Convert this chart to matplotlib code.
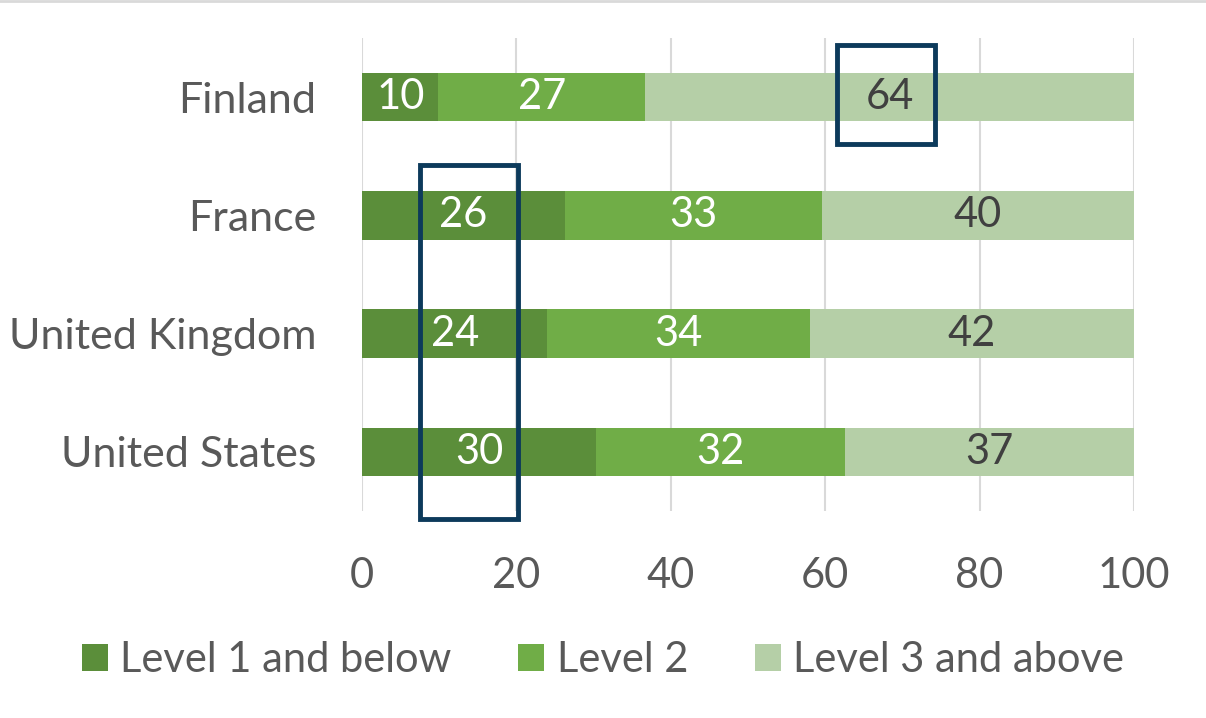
import numpy as np
import matplotlib.pyplot as plt
from matplotlib.patches import Rectangle
from matplotlib.lines import Line2D

plt.rcParams['font.family'] = ['Lato', 'DejaVu Sans']

# datos
countries = ["Finland", "France", "United Kingdom", "United States"]
series = ["Level 1 and below", "Level 2", "Level 3 and above"]
level1 = [10, 26, 24, 30]
level2 = [27, 33, 34, 32]
level3 = [64, 40, 42, 37]
colors = ["#5B8E3A", "#70AD47", "#B5CFA7"]
txt_colors = ["white", "white", "#404040"]

vals = np.array([level1, level2, level3], dtype=float)
# las barras estan normalizadas a 100
pct = vals / vals.sum(axis=0) * 100

fig = plt.figure(figsize=(12.06, 7.18), dpi=100)
ax = fig.add_axes([0.3002, 0.2883, 0.6401, 0.6588])

y = np.arange(len(countries))
left = np.zeros(len(countries))
for k in range(3):
    ax.barh(y, pct[k], left=left, height=0.41, color=colors[k],
            label=series[k], zorder=2)
    for i in range(len(countries)):
        ax.text(left[i] + pct[k][i] / 2, y[i], str(int(vals[k][i])),
                ha='center', va='center', fontsize=30,
                color=txt_colors[k], zorder=3)
    left += pct[k]

ax.set_xlim(0, 100)
ax.set_ylim(3.5, -0.5)
ax.set_xticks([0, 20, 40, 60, 80, 100])
ax.set_yticks(y)
ax.set_yticklabels(countries)
ax.tick_params(axis='both', length=0, labelsize=30, labelcolor='#595959')
ax.tick_params(axis='y', labelsize=31, pad=33)
ax.tick_params(axis='x', pad=33)
ax.grid(axis='x', color='#d9d9d9', linewidth=1.5, zorder=0)
for s in ax.spines.values():
    s.set_visible(False)

# recuadros de resaltado
navy = "#0C3A5B"
ax.add_patch(Rectangle((61.5, -0.44), 12.7, 0.835, fill=False,
                       edgecolor=navy, linewidth=3.5, zorder=4, clip_on=False))
ax.add_patch(Rectangle((7.5, 0.57), 12.7, 3.0, fill=False,
                       edgecolor=navy, linewidth=3.5, zorder=4, clip_on=False))

ax.legend(loc='center', bbox_to_anchor=(0.5, 0.081), bbox_transform=fig.transFigure,
          ncol=3, frameon=False, fontsize=30, labelcolor='#595959',
          handlelength=0.62, handleheight=0.62, handletextpad=0.3,
          columnspacing=1.6)

fig.add_artist(Line2D([0, 1], [0.999, 0.999], transform=fig.transFigure,
                      color='#d9d9d9', linewidth=2))

fig.savefig("out.png", dpi=100)
